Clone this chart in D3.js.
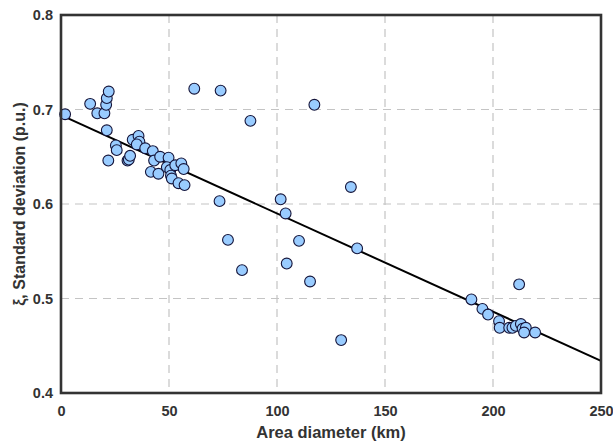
<!DOCTYPE html>
<html>
<head>
<meta charset="utf-8">
<script src="https://cdn.jsdelivr.net/npm/d3@7"></script>
<style>
  body { margin: 0; background: #fff; }
  svg text { font-family: "Liberation Sans", Arial, sans-serif; font-weight: bold; fill: #333; }
</style>
</head>
<body>
<svg id="chart" width="613" height="443"></svg>
<script>
// area diameter (km)
var diameter = [
    1.9, 13.5, 16.8, 20.1, 20.9, 21.2, 22.1, 21.2, 21.9, 25.4,
    25.8, 30.8, 31.4, 32.0, 33.2, 35.9, 36.3, 35.1, 39.0, 42.5,
    43.1, 41.6, 45.1, 45.9, 49.8, 49.0, 50.6, 50.9, 51.3, 52.9,
    54.4, 55.7, 56.8, 57.2, 61.7, 73.9, 87.7, 117.3, 73.4, 77.3,
    83.8, 101.7, 104.0, 110.2, 104.5, 115.3, 134.2, 137.1, 129.7, 212.1,
    190.0, 195.1, 197.7, 202.8, 203.1, 207.5, 209.0, 210.6, 212.9, 213.7,
    215.2, 219.5, 214.4
];
// standard deviation (p.u.)
var stdDev = [
    0.695, 0.706, 0.696, 0.696, 0.705, 0.712, 0.719, 0.678, 0.646, 0.662,
    0.657, 0.646, 0.647, 0.651, 0.668, 0.672, 0.666, 0.663, 0.659, 0.656,
    0.646, 0.634, 0.632, 0.650, 0.649, 0.639, 0.636, 0.630, 0.627, 0.641,
    0.622, 0.643, 0.637, 0.620, 0.722, 0.720, 0.688, 0.705, 0.603, 0.562,
    0.530, 0.605, 0.590, 0.561, 0.537, 0.518, 0.618, 0.553, 0.456, 0.515,
    0.499, 0.489, 0.483, 0.476, 0.469, 0.469, 0.469, 0.471, 0.473, 0.468,
    0.469, 0.464, 0.464
];
// fitted line end points
var fitX = [0, 250];
var fitY = [0.694, 0.434];

var xTicks = [0, 50, 100, 150, 200, 250];
var yTicks = [0.4, 0.5, 0.6, 0.7, 0.8];

var margin = { top: 15, right: 12, bottom: 50, left: 61 };
var svg = d3.select("#chart");
var width = 613 - margin.left - margin.right,
    height = 443 - margin.top - margin.bottom;

var x = d3.scaleLinear().domain([0, 250]).range([0, width]);
var y = d3.scaleLinear().domain([0.4, 0.8]).range([height, 0]);

var g = svg.append("g")
    .attr("transform", "translate(" + margin.left + "," + margin.top + ")");

// grid
g.append("g").selectAll("line")
    .data(xTicks.slice(1, -1))
    .enter().append("line")
    .attr("x1", function (d) { return x(d); })
    .attr("x2", function (d) { return x(d); })
    .attr("y1", 0).attr("y2", height)
    .attr("stroke", "#c4c4c4").attr("stroke-width", 1.2)
    .attr("stroke-dasharray", "8,6");
g.append("g").selectAll("line")
    .data(yTicks.slice(1, -1))
    .enter().append("line")
    .attr("y1", function (d) { return y(d); })
    .attr("y2", function (d) { return y(d); })
    .attr("x1", 0).attr("x2", width)
    .attr("stroke", "#c4c4c4").attr("stroke-width", 1.2)
    .attr("stroke-dasharray", "8,6");

// axes (labels only, frame drawn below)
var xAxis = g.append("g")
    .attr("transform", "translate(0," + height + ")")
    .call(d3.axisBottom(x).tickValues(xTicks).tickSize(0).tickPadding(13).tickFormat(d3.format("d")));
var yAxis = g.append("g")
    .call(d3.axisLeft(y).tickValues(yTicks).tickSize(0).tickPadding(8).tickFormat(d3.format(".1f")));
[xAxis, yAxis].forEach(function (a) {
    a.select(".domain").remove();
    a.selectAll("text").style("font-size", "14.5px").style("font-family", "Liberation Sans, Arial, sans-serif")
        .style("font-weight", "bold").attr("fill", "#333");
});

// fitted line
g.append("line")
    .attr("x1", x(fitX[0])).attr("y1", y(fitY[0]))
    .attr("x2", x(fitX[1])).attr("y2", y(fitY[1]))
    .attr("stroke", "#000").attr("stroke-width", 2);

// points
g.append("g").selectAll("circle")
    .data(diameter.map(function (d, i) { return [d, stdDev[i]]; }))
    .enter().append("circle")
    .attr("cx", function (d) { return x(d[0]); })
    .attr("cy", function (d) { return y(d[1]); })
    .attr("r", 5.4)
    .attr("fill", "#99ccff")
    .attr("stroke", "#14143a")
    .attr("stroke-width", 1.1);

// frame
g.append("rect")
    .attr("x", 0).attr("y", 0)
    .attr("width", width).attr("height", height)
    .attr("fill", "none").attr("stroke", "#333").attr("stroke-width", 2.6);

// axis titles
svg.append("text")
    .attr("x", margin.left + width / 2).attr("y", 438)
    .attr("text-anchor", "middle")
    .style("font-size", "16.5px")
    .text("Area diameter (km)");
svg.append("text")
    .attr("transform", "translate(25," + (margin.top + height / 2) + ") rotate(-90)")
    .attr("text-anchor", "middle")
    .style("font-size", "16px")
    .text("ξ, Standard deviation (p.u.)");
</script>
</body>
</html>
